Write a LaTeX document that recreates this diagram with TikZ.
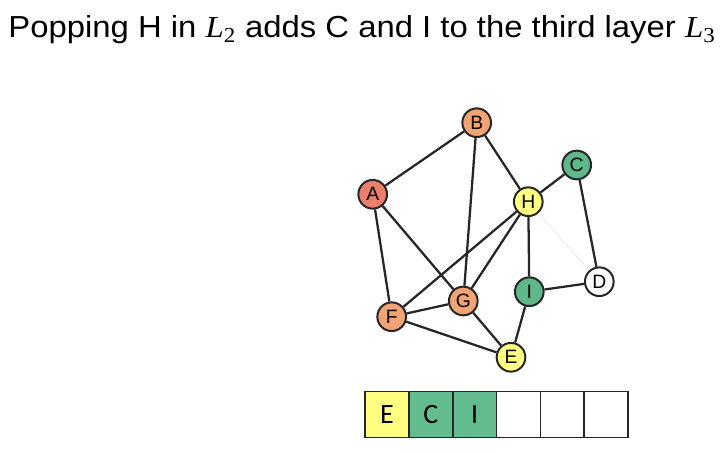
\documentclass[tikz,border=0pt]{standalone}
\usepackage{fontspec}
\setmainfont{Liberation Sans}
\newfontfamily\timesfont{Liberation Serif}
\newfontfamily\boxfont{Carlito}
\usetikzlibrary{positioning}

\definecolor{nodered}{RGB}{234,128,108}
\definecolor{nodeorange}{RGB}{242,164,116}
\definecolor{nodeyellow}{RGB}{255,255,128}
\definecolor{nodegreen}{RGB}{94,184,138}
\definecolor{cellyellow}{RGB}{255,255,128}
\definecolor{cellgreen}{RGB}{98,188,142}

\newcommand{\layer}[1]{{\timesfont\itshape L}\textsubscript{\timesfont #1}}

\tikzset{every picture/.style={line width=0.75pt}}
\tikzset{
  vertex/.style={circle, draw=black!85, line width=1.5pt, minimum size=21.5pt, inner sep=0pt, font=\fontsize{14.5}{14.5}\selectfont},
  edge/.style={draw=black!85, line width=1.7pt},
  faint/.style={draw=black!12, line width=0.4pt},
  cell/.style={draw=black!85, line width=1.3pt, minimum width=32.9pt, minimum height=34.5pt, inner sep=0pt, outer sep=0pt, font=\boxfont\fontsize{21}{21}\selectfont}
}

\begin{document}
\begin{tikzpicture}[x=0.75pt,y=0.75pt,yscale=-1,xscale=1]
	\useasboundingbox (0,0) rectangle (726,453);
	
	% Title
	\node (title) [anchor=base west, inner sep=0pt, font=\fontsize{22.8}{26}\selectfont] at (8,38) {\scalebox{1.08}[1]{Popping H in \layer{2} adds C and I to the third layer \layer{3}}};
	
	% Vertices
	\node (A) [vertex, fill=nodered] at (372.7,194.3) {A};
	\node (B) [vertex, fill=nodeorange] at (476.7,122.7) {B};
	\node (C) [vertex, fill=nodegreen] at (576.7,165) {C};
	\node (H) [vertex, fill=nodeyellow] at (528.3,201.7) {H};
	\node (D) [vertex, fill=white] at (599.3,281.7) {D};
	\node (I) [vertex, fill=nodegreen] at (529.3,291.7) {I};
	\node (G) [vertex, fill=nodeorange] at (463.3,301) {G};
	\node (F) [vertex, fill=nodeorange] at (391.7,316.7) {F};
	\node (E) [vertex, fill=nodeyellow] at (511,357.3) {E};
	
	% Edges
	\path[faint] (H) -- (D);
	\path[edge] (A) -- (B);
	\path[edge] (B) -- (G);
	\path[edge] (B) -- (H);
	\path[edge] (A) -- (F);
	\path[edge] (A) -- (G);
	\path[edge] (H) -- (C);
	\path[edge] (H) -- (F);
	\path[edge] (H) -- (G);
	\path[edge] (H) -- (I);
	\path[edge] (C) -- (D);
	\path[edge] (I) -- (D);
	\path[edge] (I) -- (E);
	\path[edge] (G) -- (F);
	\path[edge] (G) -- (E);
	\path[edge] (F) -- (E);
	
	% Queue
	\node (q1) [cell, fill=cellyellow] at (386.9,414.5) {E};
	\node (q2) [cell, fill=cellgreen, right=0pt of q1] {C};
	\node (q3) [cell, fill=cellgreen, right=0pt of q2] {I};
	\node (q4) [cell, right=0pt of q3] {};
	\node (q5) [cell, right=0pt of q4] {};
	\node (q6) [cell, right=0pt of q5] {};
	
\end{tikzpicture}
\end{document}
